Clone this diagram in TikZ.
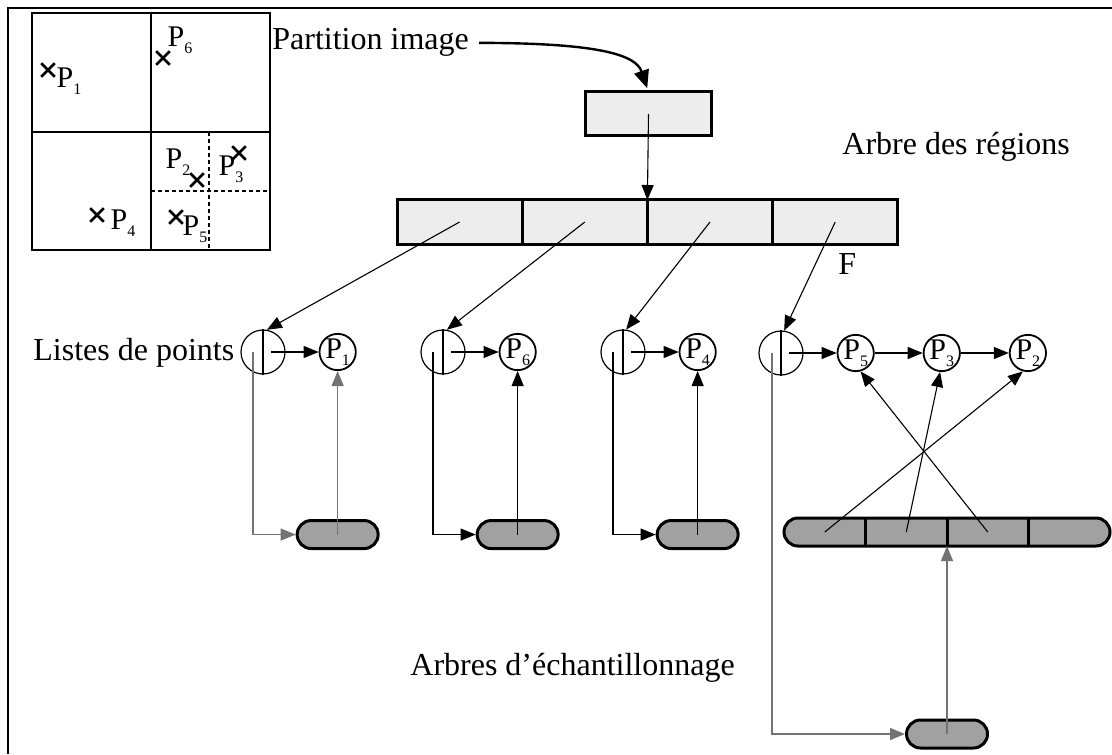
\documentclass[tikz,border=0pt]{standalone}
\usepackage{fontspec}
\setmainfont{Liberation Serif}
\usetikzlibrary{arrows.meta,positioning,shapes.misc}
\newcommand{\Pn}[1]{P\raisebox{-3.5pt}{\fontsize{8}{9}\selectfont #1}}

\begin{document}
\begin{tikzpicture}[>={Triangle[length=7.5pt,width=6pt]},x=0.5pt,y=-0.5pt,node distance=16.5pt]
  \tikzstyle{txt}=[font=\fontsize{16}{18}\selectfont,inner sep=0pt,anchor=base west]
  \tikzstyle{region}=[draw,fill=black!7,line width=1.5pt,outer sep=0pt,minimum width=62.6pt,minimum height=22pt]
  \tikzstyle{head}=[draw,circle,line width=0.6pt,minimum size=22pt,inner sep=0pt]
  \tikzstyle{pnode}=[draw,circle,line width=0.9pt,minimum size=17pt,inner sep=0pt,font=\fontsize{15}{16}\selectfont]
  \tikzstyle{leaf}=[draw,fill=black!37,line width=1.5pt,rounded corners=7pt,minimum width=40.5pt,minimum height=14pt]
  \tikzstyle{sub}=[outer sep=0pt,inner sep=0pt,minimum width=40.75pt,minimum height=14pt]
  \tikzstyle{xpt}=[draw,cross out,line width=1.3pt,minimum size=5.5pt,inner sep=0pt]
  \tikzstyle{plab}=[inner sep=0pt,font=\fontsize{15}{16}\selectfont]
  \tikzstyle{link}=[line width=0.55pt]
  \tikzstyle{glink}=[line width=0.65pt,black!55]
  \useasboundingbox (0,0) rectangle (1112,754);
  \draw[line width=0.9pt] (8,754) -- (8,8) -- (1112,8);
  % partition de l'image
  \draw[link] (32,13) rectangle (270,250);
  \draw[link] (151,13) -- (151,250);
  \draw[link] (32,132) -- (270,132);
  \draw[link,dash pattern=on 2pt off 1.5pt] (209,132) -- (209,250);
  \draw[link,dash pattern=on 2pt off 1.5pt] (151,191) -- (270,191);
  \node[xpt] (x1) at (48,70) {};
  \node[xpt] (x6) at (163,58) {};
  \node[xpt] (x2) at (197,180) {};
  \node[xpt] (x3) at (239,153) {};
  \node[xpt] (x4) at (97,215) {};
  \node[xpt] (x5) at (176,217) {};
  \node[plab] (lab1) at (69,81) {\Pn{1}};
  \node[plab] (lab6) at (180,40) {\Pn{6}};
  \node[plab] (lab2) at (178,162) {\Pn{2}};
  \node[plab] (lab3) at (231,169) {\Pn{3}};
  \node[plab] (lab4) at (123,223) {\Pn{4}};
  \node[plab] (lab5) at (195,229) {\Pn{5}};
  % arbre des regions
  \node[txt] (part) at (272,50) {Partition image};
  \node[region] (top) at (648.5,114) {};
  \node[txt] (arbre) at (842,155) {Arbre des régions};
  \node[region] (r1) at (459.6,222) {};
  \node[region,right=0pt of r1] (r2) {};
  \node[region,right=0pt of r2] (r3) {};
  \node[region,right=0pt of r3] (r4) {};
  \node[txt] (f) at (838,274) {F};
  \draw[line width=1.2pt,shorten <=5pt,shorten >=2pt,-{Triangle[length=9pt,width=7.5pt]}] (part.east) .. controls (600,43) and (636,55) .. (top.north);
  \draw[link,->] (top.center) -- (r2.north east);
  % listes de points
  \node[txt] (listes) at (33,360) {Listes de points};
  \node[head] (h1) at (263,352) {};
  \node[head] (h2) at (443,352) {};
  \node[head] (h3) at (623,352) {};
  \node[head] (h4) at (781,353) {};
  \draw[link] (h1.north) -- (h1.south);
  \draw[link] (h2.north) -- (h2.south);
  \draw[link] (h3.north) -- (h3.south);
  \draw[link] (h4.north) -- (h4.south);
  \node[pnode,right=of h1] (p1) {\Pn{1}};
  \node[pnode,right=of h2] (p6) {\Pn{6}};
  \node[pnode,right=of h3] (p4) {\Pn{4}};
  \node[pnode,right=of h4] (p5) {\Pn{5}};
  \node[pnode,right=24pt of p5] (p3) {\Pn{3}};
  \node[pnode,right=24pt of p3] (p2) {\Pn{2}};
  \draw[link,->] (r1.center) -- (h1.80);
  \draw[link,->] (r2.center) -- (h2.80);
  \draw[link,->] (r3.center) -- (h3.82);
  \draw[link,->] (r4.center) -- (h4.82);
  \draw[link,->] ([xshift=4pt]h1.center) -- (p1);
  \draw[link,->] ([xshift=4pt]h2.center) -- (p6);
  \draw[link,->] ([xshift=4pt]h3.center) -- (p4);
  \draw[link,->] ([xshift=4pt]h4.center) -- (p5);
  \draw[link,->] (p5) -- (p3);
  \draw[link,->] (p3) -- (p2);
  % arbres d'echantillonnage
  \node[leaf,below=74pt of p1] (l1) {};
  \node[leaf,below=74pt of p6] (l2) {};
  \node[leaf,below=74pt of p4] (l3) {};
  \node[draw,fill=black!37,line width=1.5pt,rounded corners=7pt,minimum width=163pt,minimum height=14pt] (bar) at (947,532) {};
  \node[sub] (c1) at (824.75,532) {};
  \node[sub,right=0pt of c1] (c2) {};
  \node[sub,right=0pt of c2] (c3) {};
  \node[sub,right=0pt of c3] (c4) {};
  \draw[line width=1.5pt] (c1.north east) -- (c1.south east);
  \draw[line width=1.5pt] (c2.north east) -- (c2.south east);
  \draw[line width=1.5pt] (c3.north east) -- (c3.south east);
  \node[leaf] (l4) at (947,734) {};
  \node[txt] (echant) at (410,675) {Arbres d'échantillonnage};
  \draw[glink,->] ([xshift=-5pt]h1.center) |- (l1.west);
  \draw[link,->] ([xshift=-5pt]h2.center) |- (l2.west);
  \draw[link,->] ([xshift=-5pt]h3.center) |- (l3.west);
  \draw[glink,->] ([xshift=-4.5pt]h4.center) |- (l4.west);
  \draw[glink,->] (l1.center) -- (p1);
  \draw[link,->] (l2.center) -- (p6);
  \draw[link,->] (l3.center) -- (p4);
  \draw[link,->] (c1.center) -- (p2.255);
  \draw[link,->] (c2.center) -- (p3.265);
  \draw[link,->] (c3.center) -- (p5.285);
  \draw[glink,->] (l4.center) -- (c2.south east);
\end{tikzpicture}
\end{document}
